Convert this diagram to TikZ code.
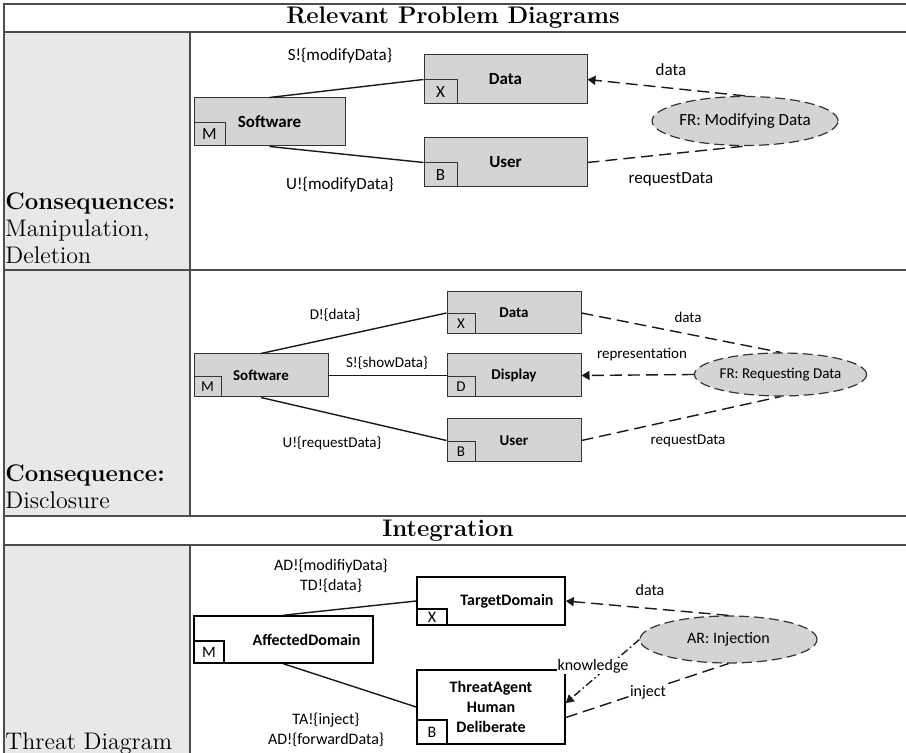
\documentclass[tikz,border=0pt]{standalone}
\usepackage{fontspec}
\newfontfamily\visio{Carlito}
\usetikzlibrary{positioning,shapes.geometric,arrows.meta}

\begin{document}
\begin{tikzpicture}[
  x=0.5pt, y=-0.5pt,
  grid/.style={draw=black!70, line width=0.6pt},
  side/.style={fill=black!9},
  head/.style={font=\bfseries\fontsize{12}{14}\selectfont, inner sep=0pt},
  cell/.style={font=\fontsize{12}{13.5}\selectfont, align=left,
    anchor=north west, inner sep=0pt},
  dom/.style={rectangle, draw=black!80, fill=black!17, line width=0.5pt,
    inner sep=0pt, execute at begin node=\bfseries},
  tag/.style={rectangle, draw=black!80, fill=black!17, line width=0.5pt,
    inner sep=0pt, anchor=south west},
  req/.style={ellipse, draw=black!80, fill=black!17, line width=0.6pt,
    dash pattern=on 5pt off 2.5pt, inner sep=0pt},
  iface/.style={draw=black!90, line width=0.7pt},
  refer/.style={draw=black!90, line width=0.7pt, dash pattern=on 6pt off 3pt},
  constr/.style={draw=black!90, line width=0.7pt,
    dash pattern=on 4pt off 1.5pt on 0.8pt off 1.5pt},
  tip/.style={-{Triangle[length=4pt,width=4.5pt]}},
  lbl/.style={inner sep=1pt}
]
  \useasboundingbox (0,0) rectangle (906,753);

  % table frame
  \fill[side] (4,32) rectangle (190,516);
  \fill[side] (4,545) rectangle (190,753);
  \draw[grid] (906,4) -- (4,4) -- (4,753);
  \draw[grid] (4,32) -- (906,32);
  \draw[grid] (4,270) -- (906,270);
  \draw[grid] (4,516) -- (906,516);
  \draw[grid] (4,545) -- (906,545);
  \draw[grid] (190,32) -- (190,516);
  \draw[grid] (190,545) -- (190,753);

  \node[head] (hdprob) at (453,18) {Relevant Problem Diagrams};
  \node[head] (hdint) at (448,531) {Integration};
  \node[cell] (cons1) at (5,192) {\textbf{Consequences:}\\Manipulation,\\Deletion};
  \node[cell] (cons2) at (5,464) {\textbf{Consequence:}\\Disclosure};
  \node[cell] (thrt) at (5,732) {Threat Diagram};

  % manipulation / deletion
  \begin{scope}[every node/.style={font=\visio\fontsize{8.5}{10}\selectfont}]
    \node[dom, minimum width=75.5pt, minimum height=24pt] (sw1) at (269.5,122) {Software};
    \node[tag, minimum width=15.5pt, minimum height=11.5pt] (sw1m) at (sw1.south west) {M};
    \node[dom, minimum width=81.5pt, minimum height=24.5pt] (dat1) at (505.5,79.5) {Data};
    \node[tag, minimum width=16.5pt, minimum height=12pt] (dat1x) at (dat1.south west) {X};
    \node[dom, minimum width=81.5pt, minimum height=24.5pt] (usr1) at (505.5,162.5) {User};
    \node[tag, minimum width=16.5pt, minimum height=12pt] (usr1b) at (usr1.south west) {B};
    \node[req, minimum width=90.5pt, minimum height=24.5pt] (fr1) at (745,121) {FR: Modifying Data};

    \draw[iface] (sw1.north) -- (dat1.west);
    \draw[iface] (sw1.south) -- (usr1.west);
    \draw[refer, tip] (fr1.north) -- (dat1.east);
    \draw[refer] (usr1.east) -- (fr1.south);

    \node[lbl] (l1a) at (340,56) {S!\{modifyData\}};
    \node[lbl] (l1b) at (340,185) {U!\{modifyData\}};
    \node[lbl] (l1c) at (671,70) {data};
    \node[lbl] (l1d) at (671,179) {requestData};
  \end{scope}

  % disclosure
  \begin{scope}[every node/.style={font=\visio\fontsize{7.5}{9}\selectfont}]
    \node[dom, minimum width=67pt, minimum height=21.5pt] (sw2) at (261,375.5) {Software};
    \node[tag, minimum width=13.5pt, minimum height=10pt] (sw2m) at (sw2.south west) {M};
    \node[dom, minimum width=67pt, minimum height=21pt] (dat2) at (514,313) {Data};
    \node[tag, minimum width=14pt, minimum height=10pt] (dat2x) at (dat2.south west) {X};
    \node[dom, minimum width=67pt, minimum height=21.5pt] (dsp2) at (514,375.5) {Display};
    \node[tag, minimum width=14pt, minimum height=10pt] (dsp2d) at (dsp2.south west) {D};
    \node[dom, minimum width=67pt, minimum height=21.5pt] (usr2) at (514,440.5) {User};
    \node[tag, minimum width=14pt, minimum height=10pt] (usr2b) at (usr2.south west) {B};
    \node[req, minimum width=79.5pt, minimum height=21.5pt] (fr2) at (780.5,374.5) {FR: Requesting Data};

    \draw[iface] (sw2.north) -- (dat2.west);
    \draw[iface] (sw2.east) -- (dsp2.west);
    \draw[iface] (sw2.south) -- (usr2.west);
    \draw[refer] (dat2.east) -- (fr2.north);
    \draw[refer, tip] (fr2.west) -- (dsp2.east);
    \draw[refer] (usr2.east) -- (fr2.south);

    \node[lbl] (l2a) at (335,315) {D!\{data\}};
    \node[lbl] (l2b) at (387,363) {S!\{showData\}};
    \node[lbl] (l2c) at (332,443) {U!\{requestData\}};
    \node[lbl] (l2d) at (688,317) {data};
    \node[lbl] (l2e) at (642,355) {representation};
    \node[lbl] (l2f) at (688,441) {requestData};
  \end{scope}

  % threat diagram
  \begin{scope}[every node/.style={font=\visio\fontsize{8}{10}\selectfont},
      threat/.style={dom, fill=white, draw=black, line width=0.8pt},
      threattag/.style={tag, fill=white, draw=black, line width=0.8pt}]
    \node[threat, minimum width=89.5pt, minimum height=23.5pt] (ad3) at (283.5,639.5) {\hspace*{23pt}AffectedDomain};
    \node[threattag, minimum width=15pt, minimum height=11pt] (ad3m) at (ad3.south west) {M};
    \node[threat, minimum width=74pt, minimum height=24pt] (td3) at (491,601) {\hspace*{16pt}TargetDomain};
    \node[threattag, minimum width=15pt, minimum height=8pt] (td3x) at (td3.south west) {X};
    \node[threat, minimum width=74pt, minimum height=37pt, align=center] (ta3) at (491,707) {ThreatAgent\\Human\\Deliberate};
    \node[threattag, minimum width=15pt, minimum height=12pt] (ta3b) at (ta3.south west) {B};
    \node[req, minimum width=88.5pt, minimum height=23.5pt] (ar3) at (728.5,639.5) {AR: Injection};

    \draw[iface] (ad3.north) -- (td3.west);
    \draw[iface] (ad3.south) -- (ta3.west);
    \draw[refer, tip] (ar3.north) -- (td3.east);
    \draw[constr, tip] (ar3.west) -- (ta3.3);
    \draw[refer] (ta3.-8) -- (ar3.south);

    \node[lbl, align=center] (l3a) at (331,576) {AD!\{modifiyData\}\\TD!\{data\}};
    \node[lbl, align=center] (l3b) at (326,730) {TA!\{inject\}\\AD!\{forwardData\}};
    \node[lbl] (l3c) at (650,590) {data};
    \node[lbl, fill=white, inner sep=0.5pt] (l3d) at (593,666) {knowledge};
    \node[lbl, fill=white, inner sep=0.5pt] (l3e) at (648,692) {inject};
  \end{scope}
\end{tikzpicture}
\end{document}
